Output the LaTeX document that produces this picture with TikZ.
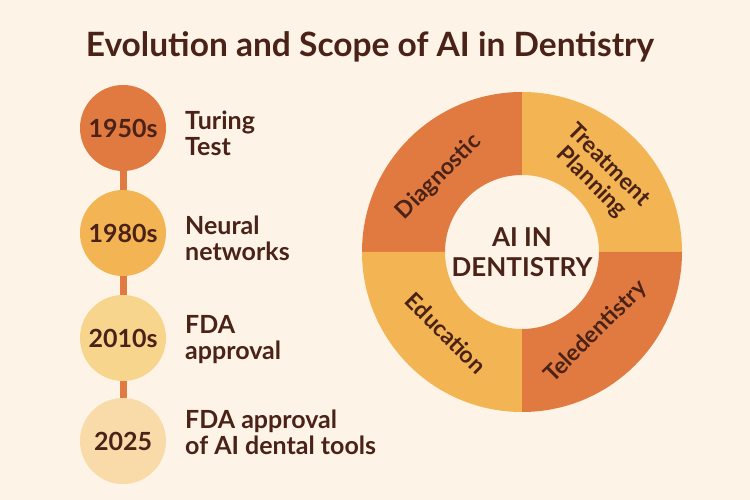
\documentclass[tikz,border=0pt]{standalone}
\usepackage{fontspec}
\setmainfont{Lato}
\usetikzlibrary{calc}
\definecolor{bg}{HTML}{FDF4E7}
\definecolor{darkor}{HTML}{E07A40}
\definecolor{lightor}{HTML}{F3B553}
\definecolor{paleor}{HTML}{F8D58D}
\definecolor{palestor}{HTML}{F8DBA8}
\definecolor{ink}{HTML}{4A2218}
\begin{document}
\begin{tikzpicture}[x=1pt,y=1pt,
  yearcircle/.style={circle, minimum size=86pt, inner sep=0pt, text=ink, font=\fontsize{25}{26}\selectfont\bfseries},
  eventlabel/.style={anchor=west, align=left, inner sep=0pt, text=ink, font=\fontsize{25}{26}\selectfont\bfseries},
  ringlabel/.style={align=center, inner sep=0pt, text=ink, font=\fontsize{23}{24}\selectfont\bfseries},
  link/.style={darkor, line width=7pt}]
\fill[bg] (0,0) rectangle (750,500);
\useasboundingbox (0,0) rectangle (750,500);
% title
\node[text=ink, font=\fontsize{33.5}{35}\selectfont\bfseries] (title) at (370,453) {Evolution and Scope of AI in Dentistry};
% timeline
\node[yearcircle, fill=darkor] (y1) at (123,372) {1950s};
\node[yearcircle, fill=lightor] (y2) at (123,267) {1980s};
\node[yearcircle, fill=paleor] (y3) at (123,162) {2010s};
\node[yearcircle, fill=palestor] (y4) at (123,59) {2025};
\draw[link] (y1) -- (y2);
\draw[link] (y2) -- (y3);
\draw[link] (y3) -- (y4);
\node[eventlabel] (e1) at (185,367) {Turing\\Test};
\node[eventlabel] (e2) at (185,262) {Neural\\networks};
\node[eventlabel] (e3) at (185,160) {FDA\\approval};
\node[eventlabel] (e4) at (185,68) {FDA approval\\of AI dental tools};
% ring
\coordinate (C) at (522,248);
\fill[darkor] ($(C)+(90:160pt)$) arc[start angle=90, end angle=180, radius=160pt] -- ($(C)+(180:77pt)$) arc[start angle=180, end angle=90, radius=77pt] -- cycle;
\fill[lightor] ($(C)+(0:160pt)$) arc[start angle=0, end angle=90, radius=160pt] -- ($(C)+(90:77pt)$) arc[start angle=90, end angle=0, radius=77pt] -- cycle;
\fill[lightor] ($(C)+(180:160pt)$) arc[start angle=180, end angle=270, radius=160pt] -- ($(C)+(270:77pt)$) arc[start angle=270, end angle=180, radius=77pt] -- cycle;
\fill[darkor] ($(C)+(270:160pt)$) arc[start angle=270, end angle=360, radius=160pt] -- ($(C)+(0:77pt)$) arc[start angle=0, end angle=-90, radius=77pt] -- cycle;
\node[align=center, text=ink, font=\fontsize{26}{30}\selectfont\bfseries] (center) at (C) {AI IN\\DENTISTRY};
\node[ringlabel, rotate=45] (diag) at (439,323) {Diagnostic};
\node[ringlabel, rotate=-45] (treat) at (600,326) {Treatment\\Planning};
\node[ringlabel, rotate=-45] (edu) at (446,167) {Education};
\node[ringlabel, rotate=45] (tele) at (596,168) {Teledentistry};
\end{tikzpicture}
\end{document}
